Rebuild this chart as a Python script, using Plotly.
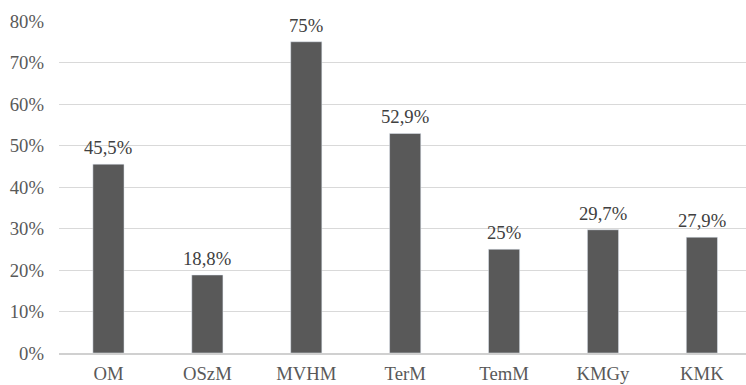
import plotly.graph_objects as go

categories = ["OM", "OSzM", "MVHM", "TerM", "TemM", "KMGy", "KMK"]
values = [45.5, 18.8, 75, 52.9, 25, 29.7, 27.9]
labels = ["45,5%", "18,8%", "75%", "52,9%", "25%", "29,7%", "27,9%"]
tick_vals = [0, 10, 20, 30, 40, 50, 60, 70, 80]
tick_text = ["0%", "10%", "20%", "30%", "40%", "50%", "60%", "70%", "80%"]

FONT = "Liberation Serif"

fig = go.Figure(go.Bar(
    x=categories, y=values, marker_color="#595959", hoverinfo="skip",
))
for c, v, t in zip(categories, values, labels):
    fig.add_annotation(x=c, y=v, text=t, showarrow=False, yanchor="bottom",
                       yshift=4, font=dict(family=FONT, size=18.7, color="#404040"))
fig.update_layout(
    width=746, height=385,
    margin=dict(l=59, r=0, t=21, b=32),
    paper_bgcolor="white", plot_bgcolor="white",
    bargap=0.685, showlegend=False,
    font=dict(family=FONT, size=18.7, color="#595959"),
)
fig.update_xaxes(range=[-0.5, 6.446], showline=True, linecolor="#d0d0d0", linewidth=2,
                 ticks="", ticklabelstandoff=3,
                 tickfont=dict(family=FONT, size=18.7, color="#595959"))
fig.update_yaxes(range=[0, 80], tickvals=tick_vals, ticktext=tick_text,
                 gridcolor="#d9d9d9", gridwidth=1, zeroline=False,
                 ticks="", ticklabelstandoff=14,
                 tickfont=dict(family=FONT, size=18.7, color="#595959"))
fig.write_html("out.html", config={"displayModeBar": False},
               post_script="document.body.style.margin='0';")
